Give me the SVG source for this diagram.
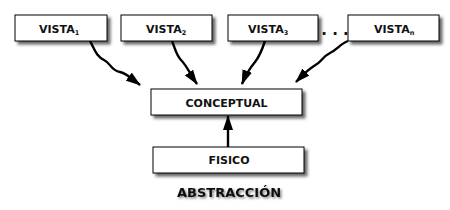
<svg xmlns="http://www.w3.org/2000/svg" width="450" height="210" viewBox="0 0 450 210">
<defs>
<filter id="sh" x="-20%" y="-30%" width="150%" height="180%">
<feDropShadow dx="3" dy="3" stdDeviation="1.5" flood-color="#000" flood-opacity="0.6"/>
</filter>
<filter id="tsh" x="-20%" y="-50%" width="140%" height="200%">
<feDropShadow dx="1.5" dy="1.5" stdDeviation="1" flood-color="#000" flood-opacity="0.5"/>
</filter>
<marker id="ah" viewBox="0 0 15 10" refX="14" refY="5" markerWidth="6.25" markerHeight="4.17" orient="auto" markerUnits="strokeWidth">
<path d="M0,0 L15,5 L0,10 Z" fill="#000"/>
</marker>
</defs>
<style>
.box{fill:#fff;stroke:#000;stroke-width:1;filter:url(#sh)}
.lbl{font-family:"DejaVu Sans",Verdana,sans-serif;font-weight:bold;font-size:11px;fill:#111}
.sub{font-size:6.5px}
.con{fill:none;stroke:#000;stroke-width:2.4;marker-end:url(#ah)}
</style>
<rect width="450" height="210" fill="#fff"/>
<g id="connectors">
<path class="con" d="M90,41 C95,50 96,56 104,60 C112,64 110,70 120,72 C128,74 132,79 140,85"/>
<path class="con" d="M172,41 C175,48 176,55 181,60 C187,66 190,74 197,84"/>
<path class="con" d="M265,41 C262,50 260,56 255,62 C250,68 246,74 242,84"/>
<path class="con" d="M348,41 C340,44 337,50 330,53 C322,57 322,62 314,66 C306,71 302,76 296,82"/>
<path class="con" d="M228,147 L228,116"/>
</g>
<g id="vista1">
<rect class="box" x="15" y="15" width="92" height="26"/>
<text class="lbl" x="39" y="33">VISTA<tspan class="sub" dy="2">1</tspan></text>
</g>
<g id="vista2">
<rect class="box" x="121" y="15" width="91" height="26"/>
<text class="lbl" x="146" y="33">VISTA<tspan class="sub" dy="2">2</tspan></text>
</g>
<g id="vista3">
<rect class="box" x="228" y="15" width="90" height="26"/>
<text class="lbl" x="248" y="33">VISTA<tspan class="sub" dy="2">3</tspan></text>
</g>
<g id="dots">
<text class="lbl" x="335" y="35" text-anchor="middle" style="font-size:15px">. . .</text>
</g>
<g id="vistan">
<rect class="box" x="348" y="15" width="91" height="26"/>
<text class="lbl" x="374" y="33">VISTA<tspan class="sub" dy="2">n</tspan></text>
</g>
<g id="conceptual">
<rect class="box" x="151" y="89" width="151" height="26"/>
<text class="lbl" x="226.5" y="107" text-anchor="middle">CONCEPTUAL</text>
</g>
<g id="fisico">
<rect class="box" x="153" y="147" width="151" height="26"/>
<text class="lbl" x="229" y="164" text-anchor="middle">FISICO</text>
</g>
<g id="title">
<text class="lbl" x="229" y="197" text-anchor="middle" style="font-size:13px;filter:url(#tsh)">ABSTRACCIÓN</text>
</g>
</svg>
